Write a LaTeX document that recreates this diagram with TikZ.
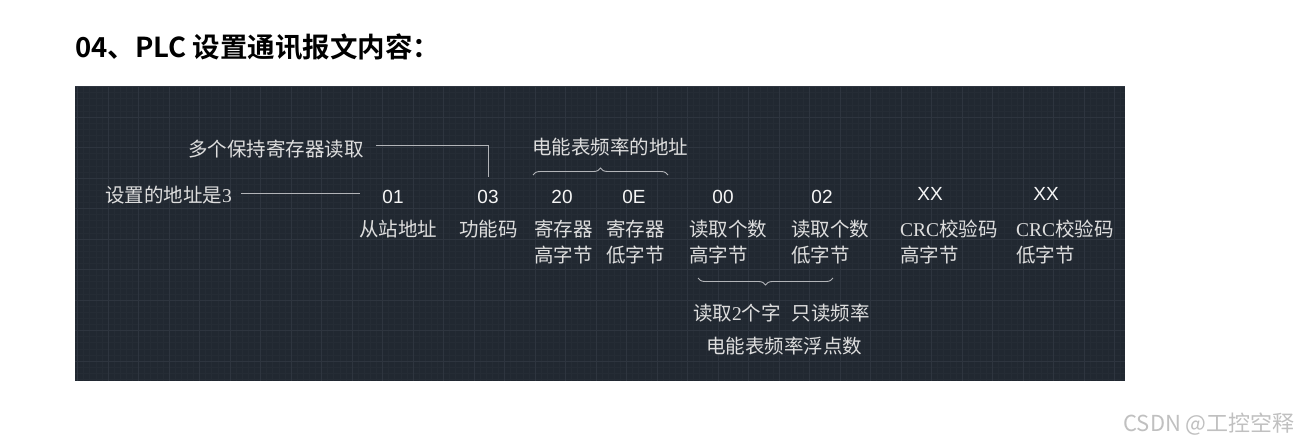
\documentclass[tikz,border=0pt]{standalone}
\usepackage{fontspec}
\newfontfamily\cjk{Noto Sans CJK SC}[BoldFont={Noto Sans CJK SC Bold}]
\newfontfamily\hexf{Liberation Sans}
\newfontfamily\serf{Liberation Serif}
\usetikzlibrary{decorations.pathreplacing}
\definecolor{cadbg}{RGB}{33,40,49}
\definecolor{gridmin}{RGB}{37,44,53}
\definecolor{gridmaj}{RGB}{46,53,63}
\definecolor{cadtext}{RGB}{222,222,222}
\definecolor{cadnum}{RGB}{246,246,246}
\definecolor{cadline}{RGB}{178,180,184}
\definecolor{wmark}{RGB}{192,192,192}
\tikzset{
  lbl/.style  ={font=\cjk\fontsize{19.5}{24}\selectfont, text=cadtext, inner sep=0pt, anchor=base west},
  hexn/.style ={font=\hexf\fontsize{19}{22}\selectfont, text=cadnum, inner sep=1pt, anchor=base},
  lead/.style ={draw=cadline, line width=0.9pt},
  brc/.style  ={draw=cadline, line width=0.9pt, decorate, decoration={brace,amplitude=7pt}},
  gmin/.style ={draw=gridmin, line width=0.6pt},
  gmaj/.style ={draw=gridmaj, line width=0.9pt},
}

\begin{document}
\begin{tikzpicture}[x=1pt,y=-1pt]
  \useasboundingbox (0,0) rectangle (1299,445);
  \fill[white] (0,0) rectangle (1299,445);
  \node[font=\cjk\bfseries\fontsize{27.5}{32}\selectfont, anchor=base west, inner sep=0pt] (title) at (75,57) {04、PLC 设置通讯报文内容：};
  % panel with grid
  \fill[cadbg] (75,86) rectangle (1125,381);
  \begin{scope}
  \clip (75,86) rectangle (1125,381);
  \foreach \k in {-1,...,173} \draw[gmin] ({77.5+6.1*\k},86) -- ++(0,295);
  \foreach \k in {-1,...,49} \draw[gmin] (75,{86.5+6.1*\k}) -- ++(1050,0);
  \foreach \j in {-1,...,33} \draw[gmaj] ({108+30.5*\j},86) -- ++(0,295);
  \foreach \j in {-1,...,9} \draw[gmaj] (75,{117+30.5*\j}) -- ++(1050,0);
  \end{scope}
  % bytes
  \node[hexn] (h01) at (393,203) {01};
  \node[hexn] (h03) at (488,203) {03};
  \node[hexn] (h20) at (562,203) {20};
  \node[hexn] (h0E) at (634,203) {0E};
  \node[hexn] (h00) at (723,203) {00};
  \node[hexn] (h02) at (822,203) {02};
  \node[hexn] (crcA) at (930,200) {XX};
  \node[hexn] (crcB) at (1046,200) {XX};
  % meaning of each byte
  \node[lbl] (slave) at (359,236) {从站地址};
  \node[lbl] (func) at (459,236) {功能码};
  \node[lbl] (regH1) at (534,236) {寄存器};
  \node[lbl] (regH2) at (534,262) {高字节};
  \node[lbl] (regL1) at (606,236) {寄存器};
  \node[lbl] (regL2) at (606,262) {低字节};
  \node[lbl] (cntH1) at (689,236) {读取个数};
  \node[lbl] (cntH2) at (689,262) {高字节};
  \node[lbl] (cntL1) at (791,236) {读取个数};
  \node[lbl] (cntL2) at (791,262) {低字节};
  \node[lbl] (crcH1) at (900,236) {{\serf CRC}校验码};
  \node[lbl] (crcH2) at (900,262) {高字节};
  \node[lbl] (crcL1) at (1016,236) {{\serf CRC}校验码};
  \node[lbl] (crcL2) at (1016,262) {低字节};
  % notes
  \node[lbl] (adr) at (105,202) {设置的地址是{\serf 3}};
  \node[lbl] (mhr) at (188,156) {多个保持寄存器读取};
  \node[lbl] (fadr) at (532,154) {电能表频率的地址};
  \node[lbl] (rd2) at (693,320) {读取{\serf 2}个字\hspace{11pt}只读频率};
  \node[lbl] (flt) at (706,353) {电能表频率浮点数};
  \coordinate (adrend) at ([xshift=-21pt]h01.west);
  \draw[lead] ([xshift=9pt,yshift=1pt]adr.east) -- ([yshift=1pt]adr.east -| adrend);
  \draw[lead] ([xshift=12pt,yshift=3pt]mhr.east) -| ([yshift=12pt]h03.north);
  \coordinate (tbl) at (533,175);
  \coordinate (tbr) at (668,175);
  \draw[brc] (tbl) -- (tbr);
  \coordinate (bbl) at (698,278);
  \coordinate (bbr) at (833,278);
  \draw[brc] (bbr) -- (bbl);
  \node[font=\cjk\fontsize{22}{26}\selectfont, text=wmark, anchor=base east, inner sep=0pt] (wm) at (1295,431) {CSDN @工控空释};
\end{tikzpicture}
\end{document}
